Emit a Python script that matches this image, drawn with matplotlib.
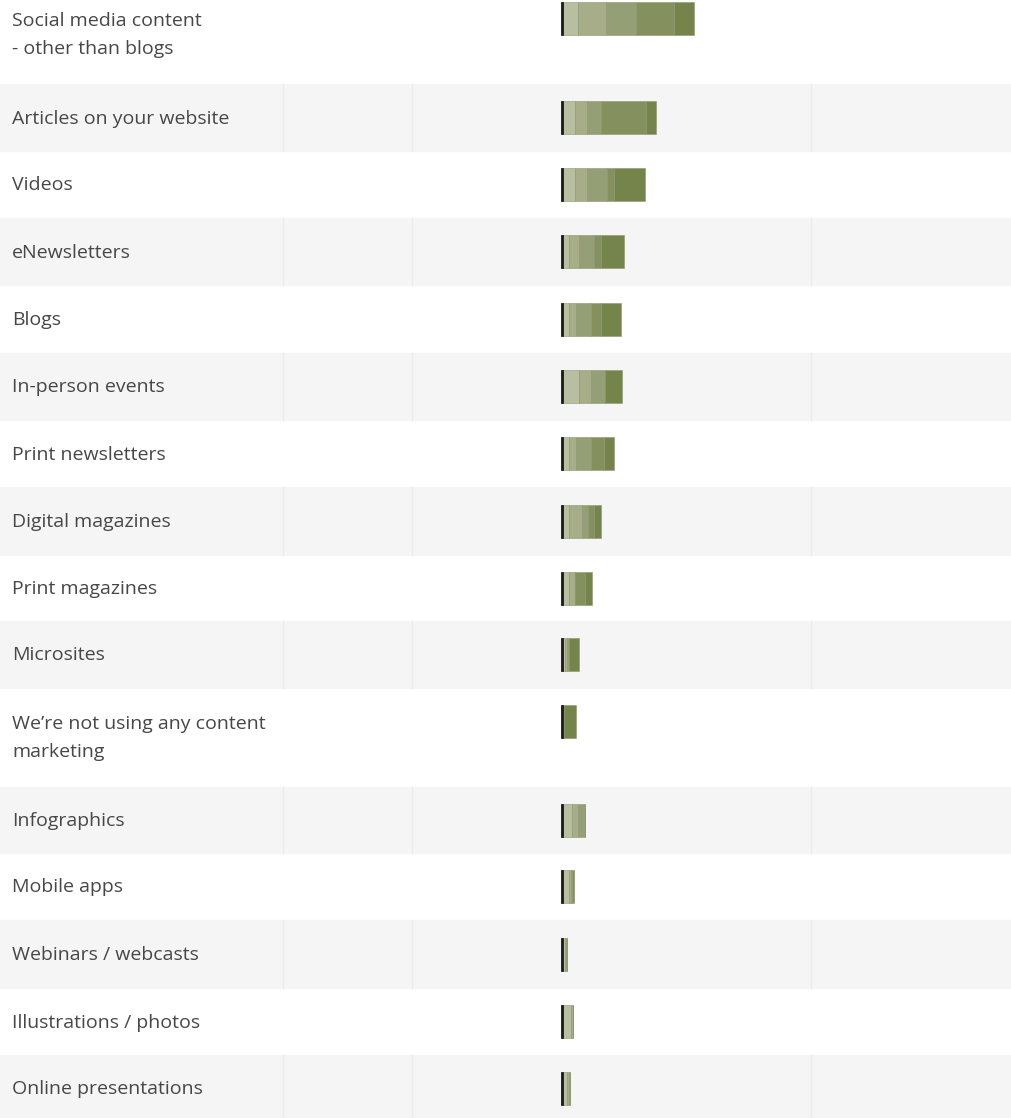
import numpy as np
import matplotlib.pyplot as plt

plt.rcParams['font.family'] = ['Open Sans', 'DejaVu Sans']

# content types, top to bottom
labels = ["Social media content\n- other than blogs", "Articles on your website", "Videos",
          "eNewsletters", "Blogs", "In-person events", "Print newsletters", "Digital magazines",
          "Print magazines", "Microsites", "We\u2019re not using any content\nmarketing",
          "Infographics", "Mobile apps", "Webinars / webcasts", "Illustrations / photos",
          "Online presentations"]

# share of respondents (%) per answer level, lightest to darkest
lvl1 = [7.5, 6.0, 6.0, 3.0, 3.0, 8.0, 3.0, 3.0, 3.0, 1.0, 0.5, 4.5, 3.0, 1.0, 4.0, 2.0]
lvl2 = [14.0, 6.0, 6.0, 5.0, 3.5, 6.0, 3.5, 6.5, 3.0, 1.0, 0.0, 3.0, 1.0, 0.5, 1.0, 1.0]
lvl3 = [15.0, 7.0, 10.0, 7.5, 7.5, 7.0, 7.5, 3.0, 0.0, 1.0, 0.0, 3.5, 0.5, 0.5, 0.0, 0.5]
lvl4 = [19.0, 22.5, 3.5, 3.5, 5.0, 0.0, 6.5, 3.0, 5.0, 0.0, 0.0, 0.0, 1.0, 0.0, 0.0, 0.0]
lvl5 = [10.0, 5.0, 15.5, 11.5, 10.0, 8.5, 5.0, 3.5, 3.5, 5.0, 6.0, 0.0, 0.0, 0.0, 0.0, 0.0]

colors = ['#b8bfa1', '#a6ad88', '#959f76', '#84915f', '#75844b']

# row layout in pixels (first row is partly cut off at the top)
row_h = [99, 67, 67, 67, 68, 67, 67, 68, 66, 67, 99, 66, 67, 68, 67, 67]
tops = -15 + np.concatenate([[0], np.cumsum(row_h)[:-1]])
W, H = 1011, 1118

fig = plt.figure(figsize=(W / 100, H / 100), dpi=100)
bg = fig.add_axes([0, 0, 1, 1])
bg.set_xlim(0, W)
bg.set_ylim(H, 0)
bg.axis('off')

centers = []
for i, (lab, top, h) in enumerate(zip(labels, tops, row_h)):
    if i % 2 == 1:
        bg.axhspan(top, top + h, color='#f5f5f5', zorder=0)
        for xs in [283, 412, 811]:
            bg.plot([xs, xs], [top, top + h], color='#ebebeb', lw=1, zorder=1)
    two = '\n' in lab
    cy = top + 33 if two else top + h / 2
    centers.append(cy)
    bg.text(12, cy + 17 if two else cy + 1, lab, fontsize=14, color='#474747',
            va='center', ha='left', linespacing=1.75)

ax = fig.add_axes([561 / W, 0, 202 / W, 1])
ax.set_xlim(-1, 100)
ax.set_ylim(H, 0)
ax.axis('off')
ax.patch.set_alpha(0)

left = np.zeros(len(centers))
for vals, c in zip([lvl1, lvl2, lvl3, lvl4, lvl5], colors):
    vals = np.array(vals)
    ax.barh(centers, vals, left=left, height=33, color=c, edgecolor='#8d9770',
            linewidth=0.4, zorder=2)
    left += vals
ax.barh(centers, [1] * len(centers), left=-1, height=33, color='#1c1c1c',
        edgecolor='#1c1c1c', linewidth=0.6, zorder=3)

fig.savefig('out.png', dpi=100)
